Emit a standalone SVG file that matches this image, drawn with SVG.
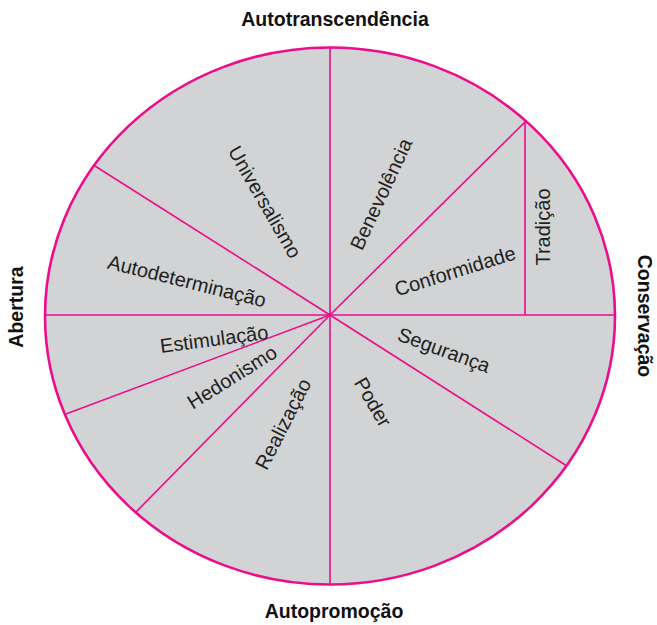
<svg xmlns="http://www.w3.org/2000/svg" width="657" height="625" viewBox="0 0 657 625">
  <style>
    .rim { fill: #d1d3d4; stroke: #ec0c8c; stroke-width: 2.6; }
    .div { stroke: #ec0c8c; stroke-width: 1.6; fill: none; }
    .lbl { font-family: "Liberation Sans", Arial, sans-serif; font-size: 20px; fill: #231f20; text-anchor: middle; }
    .axis { font-family: "Liberation Sans", Arial, sans-serif; font-size: 19.5px; font-weight: bold; fill: #111; text-anchor: middle; }
  </style>
  <rect width="657" height="625" fill="#fff"/>

  <g id="wheel">
    <ellipse class="rim" cx="330" cy="316" rx="285" ry="268.5"/>
  </g>

  <g id="dividers">
    <line class="div" x1="330" y1="48" x2="330" y2="585"/>
    <line class="div" x1="45" y1="315" x2="615" y2="315"/>
    <line class="div" x1="330" y1="315" x2="95" y2="166"/>
    <line class="div" x1="330" y1="315" x2="525" y2="122"/>
    <line class="div" x1="525" y1="122" x2="525" y2="315"/>
    <line class="div" x1="330" y1="315" x2="567" y2="466"/>
    <line class="div" x1="330" y1="315" x2="66" y2="414"/>
    <line class="div" x1="330" y1="315" x2="136" y2="512"/>
  </g>

  <g id="universalismo"><text class="lbl" transform="translate(265,202) rotate(60)" y="7">Universalismo</text></g>
  <g id="benevolencia"><text class="lbl" transform="translate(381,194) rotate(-65)" y="7">Benevolência</text></g>
  <g id="conformidade"><text class="lbl" transform="translate(455,271) rotate(-17.5)" y="7">Conformidade</text></g>
  <g id="tradicao"><text class="lbl" transform="translate(543,227) rotate(-90)" y="7">Tradição</text></g>
  <g id="autodeterminacao"><text class="lbl" transform="translate(187,281) rotate(14)" y="7">Autodeterminação</text></g>
  <g id="estimulacao"><text class="lbl" transform="translate(214,339) rotate(-7.5)" y="7">Estimulação</text></g>
  <g id="hedonismo"><text class="lbl" transform="translate(232,377) rotate(-32)" y="7">Hedonismo</text></g>
  <g id="realizacao"><text class="lbl" transform="translate(283,424) rotate(-63)" y="7">Realização</text></g>
  <g id="poder"><text class="lbl" transform="translate(373,402) rotate(60)" y="7">Poder</text></g>
  <g id="seguranca"><text class="lbl" transform="translate(444,350) rotate(20)" y="7">Segurança</text></g>

  <g id="autotranscendencia"><text class="axis" x="335" y="26">Autotranscendência</text></g>
  <g id="autopromocao"><text class="axis" x="334" y="618">Autopromoção</text></g>
  <g id="abertura"><text class="axis" transform="translate(16,307) rotate(-90)" y="7">Abertura</text></g>
  <g id="conservacao"><text class="axis" transform="translate(645,316) rotate(90)" y="7">Conservação</text></g>
</svg>
